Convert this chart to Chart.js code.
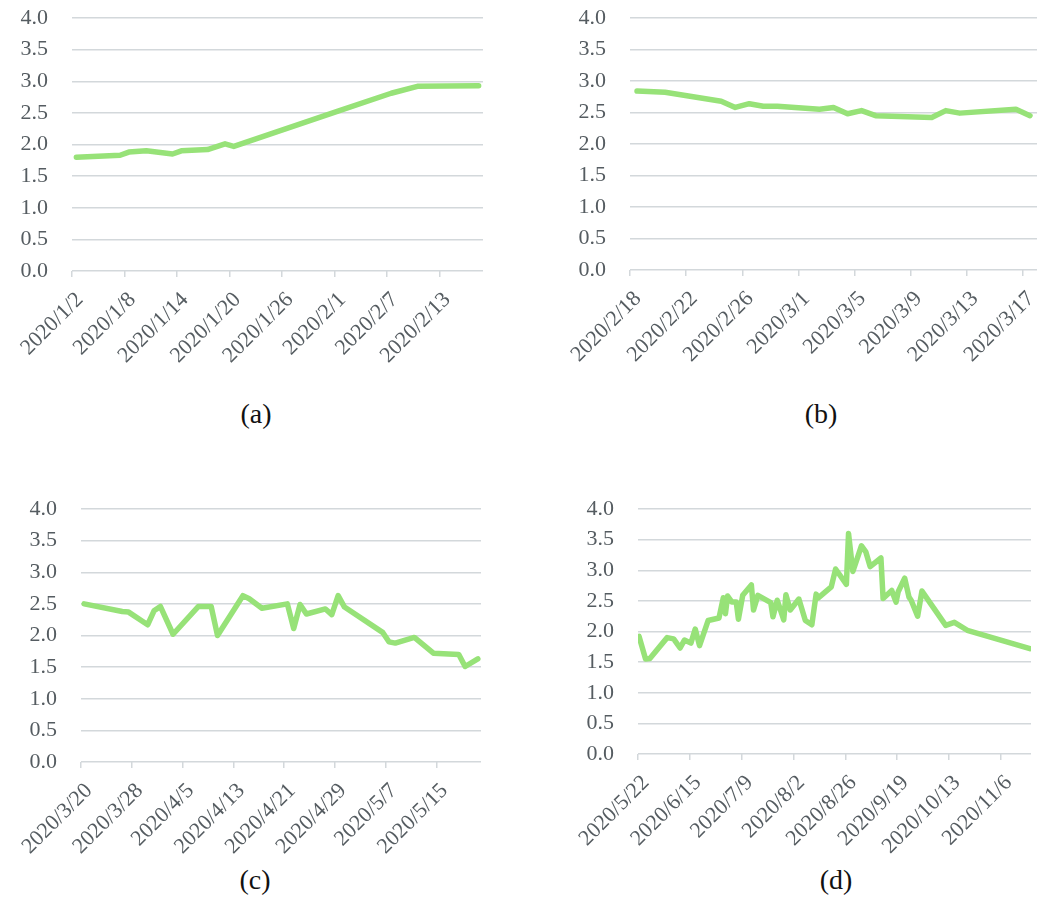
<!DOCTYPE html>
<html>
<head>
<meta charset="utf-8">
<script src="https://cdn.jsdelivr.net/npm/chart.js@4.4.1/dist/chart.umd.min.js"></script>
<style>
  body { margin: 0; background: #fff; width: 1045px; height: 920px; position: relative; overflow: hidden; }
  canvas { position: absolute; }
  .caption { position: absolute; font-family: 'Liberation Serif', 'Times New Roman', serif; font-size: 28px; color: #111; transform: translate(-50%, -50%); }
</style>
</head>
<body>
<canvas id="chartA" width="510" height="390" style="left:0;top:0"></canvas>
<canvas id="chartB" width="525" height="390" style="left:520px;top:0"></canvas>
<canvas id="chartC" width="510" height="380" style="left:0;top:480px"></canvas>
<canvas id="chartD" width="525" height="380" style="left:520px;top:480px"></canvas>
<div class="caption" style="left:256px;top:414px">(a)</div>
<div class="caption" style="left:821px;top:414px">(b)</div>
<div class="caption" style="left:255px;top:880px">(c)</div>
<div class="caption" style="left:836px;top:880px">(d)</div>
<script>
// Panel (a)
const aRange = ['2020/1/2', '2020/2/17'];
const aTicks = ['2020/1/2', '2020/1/8', '2020/1/14', '2020/1/20', '2020/1/26', '2020/2/1', '2020/2/7', '2020/2/13'];
const aDates = ['2020/1/2', '2020/1/7', '2020/1/8', '2020/1/10', '2020/1/13', '2020/1/14', '2020/1/17', '2020/1/19',
    '2020/1/20', '2020/1/26', '2020/2/1', '2020/2/7', '2020/2/10', '2020/2/17'];
const aValues = [1.80, 1.83, 1.88, 1.90, 1.85, 1.90, 1.92, 2.01, 1.97, 2.25, 2.53, 2.81, 2.92, 2.93];

// Panel (b)
const bRange = ['2020/2/18', '2020/3/17'];
const bTicks = ['2020/2/18', '2020/2/22', '2020/2/26', '2020/3/1', '2020/3/5', '2020/3/9', '2020/3/13', '2020/3/17'];
const bDates = ['2020/2/18', '2020/2/20', '2020/2/24', '2020/2/25', '2020/2/26', '2020/2/27', '2020/2/28', '2020/3/2',
    '2020/3/3', '2020/3/4', '2020/3/5', '2020/3/6', '2020/3/10', '2020/3/11', '2020/3/12', '2020/3/16', '2020/3/17'];
const bValues = [2.84, 2.82, 2.68, 2.58, 2.64, 2.60, 2.60, 2.55, 2.58, 2.48, 2.53, 2.45, 2.42, 2.53, 2.49, 2.55, 2.45];

// Panel (c)
const cRange = ['2020/3/20', '2020/5/21'];
const cTicks = ['2020/3/20', '2020/3/28', '2020/4/5', '2020/4/13', '2020/4/21', '2020/4/29', '2020/5/7', '2020/5/15'];
const cDates = ['2020/3/20', '2020/3/26', '2020/3/27', '2020/3/30', '2020/3/31', '2020/4/1', '2020/4/3', '2020/4/7',
    '2020/4/9', '2020/4/10', '2020/4/14', '2020/4/15', '2020/4/17', '2020/4/21', '2020/4/22', '2020/4/23', '2020/4/24',
    '2020/4/27', '2020/4/28', '2020/4/29', '2020/4/30', '2020/5/6', '2020/5/7', '2020/5/8', '2020/5/11', '2020/5/14',
    '2020/5/18', '2020/5/19', '2020/5/21'];
const cValues = [2.50, 2.38, 2.37, 2.17, 2.39, 2.46, 2.02, 2.46, 2.46, 2.00, 2.63, 2.58, 2.43, 2.50, 2.11, 2.49, 2.34,
    2.42, 2.33, 2.63, 2.45, 2.05, 1.90, 1.88, 1.97, 1.72, 1.70, 1.51, 1.63];

// Panel (d)
const dRange = ['2020/5/22', '2020/11/19'];
const dTicks = ['2020/5/22', '2020/6/15', '2020/7/9', '2020/8/2', '2020/8/26', '2020/9/19', '2020/10/13', '2020/11/6'];
const dDates = ['2020/5/22', '2020/5/25', '2020/5/27', '2020/6/4', '2020/6/7', '2020/6/10', '2020/6/12', '2020/6/15',
    '2020/6/17', '2020/6/19', '2020/6/23', '2020/6/28', '2020/6/30', '2020/7/1', '2020/7/2', '2020/7/4', '2020/7/6',
    '2020/7/7', '2020/7/9', '2020/7/13', '2020/7/14', '2020/7/16', '2020/7/22', '2020/7/23', '2020/7/25', '2020/7/28',
    '2020/7/29', '2020/7/31', '2020/8/4', '2020/8/7', '2020/8/10', '2020/8/12', '2020/8/13', '2020/8/19', '2020/8/21',
    '2020/8/26', '2020/8/27', '2020/8/29', '2020/9/2', '2020/9/4', '2020/9/6', '2020/9/11', '2020/9/12', '2020/9/16',
    '2020/9/18', '2020/9/19', '2020/9/22', '2020/9/24', '2020/9/25', '2020/9/28', '2020/9/30', '2020/10/11',
    '2020/10/15', '2020/10/21', '2020/11/19'];
const dValues = [1.92, 1.55, 1.56, 1.90, 1.88, 1.73, 1.86, 1.81, 2.04, 1.77, 2.18, 2.22, 2.55, 2.29, 2.58, 2.48, 2.48,
    2.20, 2.59, 2.76, 2.35, 2.59, 2.47, 2.24, 2.51, 2.19, 2.60, 2.35, 2.53, 2.18, 2.11, 2.61, 2.55, 2.73, 3.02,
    2.77, 3.60, 2.98, 3.40, 3.30, 3.06, 3.20, 2.54, 2.67, 2.48, 2.65, 2.87, 2.56, 2.51, 2.25, 2.66, 2.10,
    2.15, 2.02, 1.72];

const yMin = 0, yMax = 4, yStep = 0.5;

const GRID = '#d3d8db';
const LINE = '#97e278';
const TEXT = '#555c61';
const FONT = { family: '"Liberation Serif", "Times New Roman", serif', size: 22 };

function dayNum(s) {
    const [y, m, d] = s.split('/').map(Number);
    return Date.UTC(y, m - 1, d) / 86400000;
}

// area = chart area inside the canvas: left, top, right, bottom
function makePanel(id, range, ticks, dates, values, area) {
    const canvas = document.getElementById(id);
    const W = canvas.width, H = canvas.height;
    const start = dayNum(range[0]);
    const span = dayNum(range[1]) - start + 1;
    // each day sits in the middle of its slot, ticks fall on slot edges
    const points = dates.map((s, i) => ({ x: dayNum(s) - start + 0.5, y: values[i] }));
    const tickPos = ticks.map(s => dayNum(s) - start);

    return new Chart(canvas, {
        type: 'line',
        data: {
            datasets: [{
                data: points,
                borderColor: LINE,
                borderWidth: 5.5,
                borderJoinStyle: 'round',
                borderCapStyle: 'round',
                pointRadius: 0,
                tension: 0,
                fill: false
            }]
        },
        options: {
            responsive: false,
            animation: false,
            devicePixelRatio: 1,
            layout: { padding: { top: area.top, right: W - area.right, left: 0, bottom: 0 } },
            plugins: { legend: { display: false }, tooltip: { enabled: false } },
            scales: {
                x: {
                    type: 'linear',
                    min: 0,
                    max: span,
                    afterBuildTicks: axis => { axis.ticks = tickPos.map(v => ({ value: v })); },
                    afterFit: axis => {
                        axis.height = H - area.bottom;
                        axis.paddingLeft = 0;
                        axis.paddingRight = 0;
                    },
                    grid: { drawOnChartArea: false, drawTicks: true, tickLength: 6, color: GRID, lineWidth: 1.5 },
                    border: { display: false },
                    ticks: {
                        autoSkip: false,
                        minRotation: 45,
                        maxRotation: 45,
                        padding: 10,
                        labelOffset: 8,
                        color: TEXT,
                        font: FONT,
                        callback: (v, i) => ticks[i]
                    }
                },
                y: {
                    min: yMin,
                    max: yMax,
                    afterFit: axis => {
                        axis.width = area.left;
                        axis.paddingTop = 0;
                        axis.paddingBottom = 0;
                    },
                    grid: { drawTicks: false, color: GRID, lineWidth: 1.5 },
                    border: { display: false },
                    ticks: {
                        stepSize: yStep,
                        padding: 24,
                        color: TEXT,
                        font: FONT,
                        callback: v => v.toFixed(1)
                    }
                }
            }
        }
    });
}

function drawAll() {
    makePanel('chartA', aRange, aTicks, aDates, aValues, { left: 72, top: 18, right: 483, bottom: 271 });
    makePanel('chartB', bRange, bTicks, bDates, bValues, { left: 110, top: 18, right: 517, bottom: 270 });
    makePanel('chartC', cRange, cTicks, cDates, cValues, { left: 81, top: 29, right: 481, bottom: 282 });
    makePanel('chartD', dRange, dTicks, dDates, dValues, { left: 118, top: 29, right: 511, bottom: 274 });
}

// make sure the serif face is ready before the canvases measure text
document.fonts.load('22px "Liberation Serif"').then(drawAll, drawAll);
</script>
</body>
</html>
